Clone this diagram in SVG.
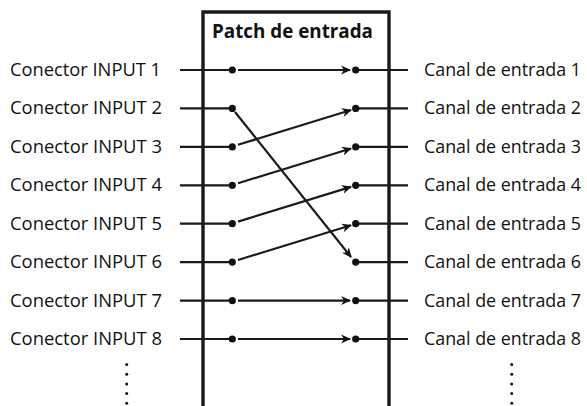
<svg xmlns="http://www.w3.org/2000/svg" width="587" height="406" viewBox="0 0 587 406">
<style>
.lbl{font-family:"Open Sans","Liberation Sans",sans-serif;font-size:18.5px;fill:#111}
.rl{font-family:"Open Sans","Liberation Sans",sans-serif;font-size:18px;fill:#111}
.ttl{font-family:"Open Sans","Liberation Sans",sans-serif;font-size:19px;font-weight:bold;fill:#111}
.ln{stroke:#1a1a1a;stroke-width:2.2;fill:none}
.ar{stroke:#1a1a1a;stroke-width:2.2;fill:none;marker-end:url(#ah)}
.dot{fill:#111}
</style>
<defs>
<marker id="ah" viewBox="0 0 10 10" refX="9" refY="5" markerWidth="10" markerHeight="10" markerUnits="userSpaceOnUse" orient="auto">
<path d="M0,0.5 L10,5 L0,9.5 L3,5 Z" fill="#111"/>
</marker>
</defs>
<g id="patch">
<path d="M203,406 V12 H389 V406" stroke="#1a1a1a" stroke-width="3.4" fill="none"/>
<text class="ttl" x="212" y="38" textLength="161" lengthAdjust="spacingAndGlyphs">Patch de entrada</text>
</g>
<g id="inputs">
<text class="lbl" x="10" y="76" textLength="151" lengthAdjust="spacingAndGlyphs">Conector INPUT 1</text>
<text class="lbl" x="10" y="114.4" textLength="152" lengthAdjust="spacingAndGlyphs">Conector INPUT 2</text>
<text class="lbl" x="10" y="152.9" textLength="152" lengthAdjust="spacingAndGlyphs">Conector INPUT 3</text>
<text class="lbl" x="10" y="191.3" textLength="152" lengthAdjust="spacingAndGlyphs">Conector INPUT 4</text>
<text class="lbl" x="10" y="229.7" textLength="152" lengthAdjust="spacingAndGlyphs">Conector INPUT 5</text>
<text class="lbl" x="10" y="268.1" textLength="152" lengthAdjust="spacingAndGlyphs">Conector INPUT 6</text>
<text class="lbl" x="10" y="306.6" textLength="152" lengthAdjust="spacingAndGlyphs">Conector INPUT 7</text>
<text class="lbl" x="10" y="345" textLength="152" lengthAdjust="spacingAndGlyphs">Conector INPUT 8</text>
</g>
<g id="channels">
<text class="rl" x="424" y="76" textLength="157" lengthAdjust="spacingAndGlyphs">Canal de entrada 1</text>
<text class="rl" x="424" y="114.4" textLength="157" lengthAdjust="spacingAndGlyphs">Canal de entrada 2</text>
<text class="rl" x="424" y="152.9" textLength="157" lengthAdjust="spacingAndGlyphs">Canal de entrada 3</text>
<text class="rl" x="424" y="191.3" textLength="157" lengthAdjust="spacingAndGlyphs">Canal de entrada 4</text>
<text class="rl" x="424" y="229.7" textLength="157" lengthAdjust="spacingAndGlyphs">Canal de entrada 5</text>
<text class="rl" x="424" y="268.1" textLength="157" lengthAdjust="spacingAndGlyphs">Canal de entrada 6</text>
<text class="rl" x="424" y="306.6" textLength="157" lengthAdjust="spacingAndGlyphs">Canal de entrada 7</text>
<text class="rl" x="424" y="345" textLength="157" lengthAdjust="spacingAndGlyphs">Canal de entrada 8</text>
</g>
<g id="connectors">
<path class="ln" d="M180,70 H232 M180,108.4 H232 M180,146.9 H232 M180,185.3 H232 M180,223.7 H232 M180,262.1 H232 M180,300.6 H232 M180,339 H232"/>
<path class="ln" d="M356,70 H408 M356,108.4 H408 M356,146.9 H408 M356,185.3 H408 M356,223.7 H408 M356,262.1 H408 M356,300.6 H408 M356,339 H408"/>
<line class="ar" x1="238" y1="70" x2="350" y2="70"/>
<line class="ar" x1="235" y1="112" x2="351" y2="257"/>
<line class="ar" x1="238" y1="144.8" x2="351" y2="110"/>
<line class="ar" x1="238" y1="183.2" x2="351" y2="148.5"/>
<line class="ar" x1="238" y1="221.6" x2="351" y2="186.9"/>
<line class="ar" x1="238" y1="260" x2="351" y2="225.3"/>
<line class="ar" x1="238" y1="300.6" x2="350" y2="300.6"/>
<line class="ar" x1="238" y1="339" x2="350" y2="339"/>
</g>
<g id="dots">
<circle class="dot" cx="232.3" cy="70" r="3.6"/>
<circle class="dot" cx="232.3" cy="108.4" r="3.6"/>
<circle class="dot" cx="232.3" cy="146.9" r="3.6"/>
<circle class="dot" cx="232.3" cy="185.3" r="3.6"/>
<circle class="dot" cx="232.3" cy="223.7" r="3.6"/>
<circle class="dot" cx="232.3" cy="262.1" r="3.6"/>
<circle class="dot" cx="232.3" cy="300.6" r="3.6"/>
<circle class="dot" cx="232.3" cy="339" r="3.6"/>
<circle class="dot" cx="355.7" cy="70" r="3.6"/>
<circle class="dot" cx="355.7" cy="108.4" r="3.6"/>
<circle class="dot" cx="355.7" cy="146.9" r="3.6"/>
<circle class="dot" cx="355.7" cy="185.3" r="3.6"/>
<circle class="dot" cx="355.7" cy="223.7" r="3.6"/>
<circle class="dot" cx="355.7" cy="262.1" r="3.6"/>
<circle class="dot" cx="355.7" cy="300.6" r="3.6"/>
<circle class="dot" cx="355.7" cy="339" r="3.6"/>
</g>
<g id="ellipsis">
<circle class="dot" cx="126.7" cy="364.5" r="1.5"/>
<circle class="dot" cx="126.7" cy="374.2" r="1.5"/>
<circle class="dot" cx="126.7" cy="383.9" r="1.5"/>
<circle class="dot" cx="126.7" cy="393.6" r="1.5"/>
<circle class="dot" cx="126.7" cy="403.3" r="1.5"/>
<circle class="dot" cx="511.7" cy="364.5" r="1.5"/>
<circle class="dot" cx="511.7" cy="374.2" r="1.5"/>
<circle class="dot" cx="511.7" cy="383.9" r="1.5"/>
<circle class="dot" cx="511.7" cy="393.6" r="1.5"/>
<circle class="dot" cx="511.7" cy="403.3" r="1.5"/>
</g>
</svg>
